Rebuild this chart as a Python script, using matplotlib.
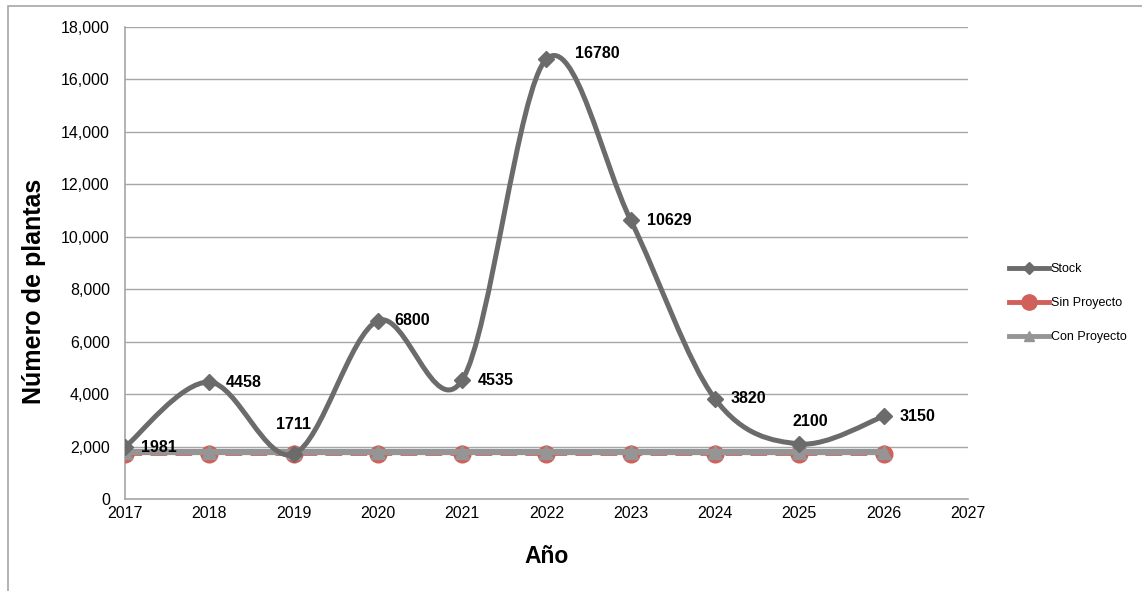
import numpy as np
import matplotlib.pyplot as plt
from matplotlib.patches import Rectangle
from matplotlib.path import Path
from matplotlib.patches import PathPatch
from matplotlib.lines import Line2D

plt.rcParams['font.family'] = ['Liberation Sans', 'DejaVu Sans']

years = [2017, 2018, 2019, 2020, 2021, 2022, 2023, 2024, 2025, 2026]
stock = [1981, 4458, 1711, 6800, 4535, 16780, 10629, 3820, 2100, 3150]
sin_proyecto = [1700, 1700, 1700, 1700, 1700, 1700, 1700, 1700, 1700, 1700]
con_proyecto = [1790, 1790, 1790, 1790, 1790, 1790, 1790, 1790, 1790, 1790]

# label offsets in pixels (dx, dy, ha)
lbl_off = {2019: (0, 22, 'center'), 2025: (11, 15, 'center'), 2022: (29, 5, 'left')}

c_stock = '#6b6b6b'
c_sin = '#d0605a'
c_con = '#959595'


def smooth_path(xs, ys):
    # excel-like smoothing: cubic bezier with catmull-rom control points
    pts = np.column_stack([xs, ys]).astype(float)
    verts = [pts[0]]
    codes = [Path.MOVETO]
    n = len(pts)
    for i in range(n - 1):
        p0 = pts[i - 1] if i > 0 else pts[i]
        p1 = pts[i]
        p2 = pts[i + 1]
        p3 = pts[i + 2] if i + 2 < n else pts[i + 1]
        c1 = p1 + (p2 - p0) / 6.0
        c2 = p2 - (p3 - p1) / 6.0
        verts += [c1, c2, p2]
        codes += [Path.CURVE4] * 3
    return Path(verts, codes)


fig = plt.figure(figsize=(11.42, 5.91), dpi=100)
ax = fig.add_axes([0.1095, 0.1557, 0.738, 0.7986])

# outer chart border
fig.patches.append(Rectangle((8 / 1142, -0.05), 1.2, 1 - 6 / 591 + 0.05,
                             transform=fig.transFigure, fill=False,
                             edgecolor='#a6a6a6', lw=1.2))

ax.set_xlim(2017, 2027)
ax.set_ylim(0, 18000)
ax.set_xticks(range(2017, 2028))
ax.set_yticks(range(0, 18001, 2000))
ax.set_yticklabels(['{:,}'.format(v) for v in range(0, 18001, 2000)])
ax.tick_params(length=0, labelsize=11.5)
ax.tick_params(axis='y', pad=11)
ax.tick_params(axis='x', pad=5)
ax.grid(axis='y', color='#a6a6a6', lw=1)
ax.set_axisbelow(True)
for s in ['top', 'right']:
    ax.spines[s].set_visible(False)
for s in ['left', 'bottom']:
    ax.spines[s].set_color('#a6a6a6')
    ax.spines[s].set_linewidth(1.2)

ax.plot(years, sin_proyecto, color=c_sin, lw=2, ls=(0, (6, 3)),
        marker='o', ms=12, mfc=c_sin, mec=c_sin, zorder=3)
ax.plot(years, con_proyecto, color=c_con, lw=4.5,
        marker='^', ms=10, mfc=c_con, mec=c_con, zorder=4)

ax.add_patch(PathPatch(smooth_path(years, stock), fill=False,
                       edgecolor=c_stock, lw=3.6, zorder=5,
                       capstyle='round', joinstyle='round'))
ax.plot(years, stock, ls='none', marker='D', ms=8, mfc=c_stock,
        mec=c_stock, zorder=6)

for x, y in zip(years, stock):
    dx, dy, ha = lbl_off.get(x, (16, 0, 'left'))
    va = 'bottom' if ha == 'center' else 'center'
    ax.annotate(str(y), (x, y), xytext=(dx, dy), textcoords='offset pixels',
                ha=ha, va=va, fontsize=11.5, fontweight='bold', zorder=7)

ax.set_xlabel('Año', fontsize=16.5, fontweight='bold')
ax.set_ylabel('Número de plantas', fontsize=18, fontweight='bold')
ax.xaxis.set_label_coords(0.5, -0.098)
ax.yaxis.set_label_coords(-0.094, 0.44)

handles = [
    Line2D([], [], color=c_stock, lw=3.5, marker='D', ms=6, mfc=c_stock, mec=c_stock),
    Line2D([], [], color=c_sin, lw=3.5, marker='o', ms=11, mfc=c_sin, mec=c_sin),
    Line2D([], [], color=c_con, lw=3.5, marker='^', ms=7, mfc=c_con, mec=c_con),
]
fig.legend(handles, ['Stock', 'Sin Proyecto', 'Con Proyecto'],
           loc='center left', bbox_to_anchor=(0.874, 0.487), frameon=False,
           fontsize=9, handlelength=3.2, handletextpad=0.1, labelspacing=1.75)

fig.savefig('out.png', dpi=100)
